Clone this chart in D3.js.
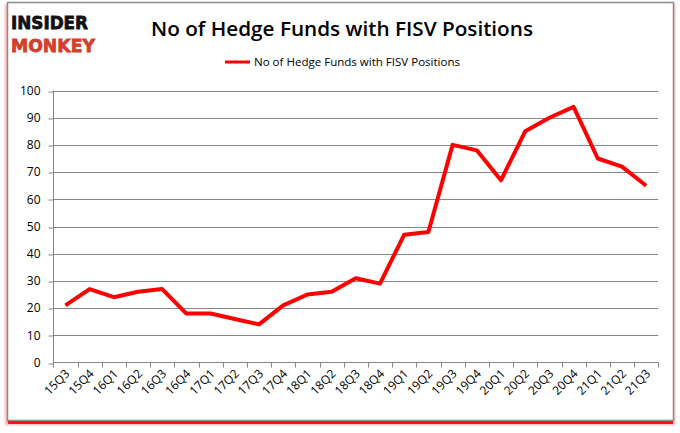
<!DOCTYPE html>
<html><head><meta charset="utf-8">
<script src="https://cdn.jsdelivr.net/npm/d3@7"></script>
<style>body{margin:0;background:#fff;} svg{display:block;}</style>
</head><body>
<svg id="c" width="680" height="433"></svg>
<script>
const categories = ["15Q3","15Q4","16Q1","16Q2","16Q3","16Q4","17Q1","17Q2","17Q3","17Q4","18Q1","18Q2","18Q3","18Q4","19Q1","19Q2","19Q3","19Q4","20Q1","20Q2","20Q3","20Q4","21Q1","21Q2","21Q3"];
const values = [21,27,24,26,27,18,18,16,14,21,25,26,31,29,47,48,80,78,67,85,90,94,75,72,65];
const yTicks = [0,10,20,30,40,50,60,70,80,90,100];
const seriesName = "No of Hedge Funds with FISV Positions";
const title = "No of Hedge Funds with FISV Positions";

const svg = d3.select("#c");
const defs = svg.append("defs");
const f = defs.append("filter").attr("id","sh").attr("x","-5%").attr("y","-5%").attr("width","110%").attr("height","110%");
f.append("feGaussianBlur").attr("stdDeviation",1);

// frame with red shadow
svg.append("rect").attr("x",5).attr("y",4).attr("width",670).attr("height",421).attr("fill","#ffb0b0").attr("filter","url(#sh)");
svg.append("rect").attr("x",8).attr("y",420).attr("width",665).attr("height",4).attr("fill","#ff1010");
svg.append("rect").attr("x",7.5).attr("y",2.5).attr("width",666).attr("height",418).attr("fill","#fff").attr("stroke","#8a8a8a").attr("stroke-width",1.5);

// logo
svg.append("text").attr("x",11).attr("y",29).attr("font-family","'DejaVu Sans'").attr("font-weight","bold").attr("font-size",18).attr("fill","#111").attr("textLength",77).attr("lengthAdjust","spacingAndGlyphs").attr("stroke","#111").attr("stroke-width",0.8).text("INSIDER");
svg.append("text").attr("x",11).attr("y",52).attr("font-family","'DejaVu Sans'").attr("font-weight","bold").attr("font-size",18).attr("fill","#d2402c").attr("textLength",84).attr("lengthAdjust","spacingAndGlyphs").attr("stroke","#d2402c").attr("stroke-width",0.8).text("MONKEY");

// title
svg.append("text").attr("x",151).attr("y",36).attr("font-family","'Open Sans', sans-serif").attr("font-weight","600").attr("font-size",19).attr("fill","#000").attr("textLength",382).attr("lengthAdjust","spacingAndGlyphs").text(title);

// legend
svg.append("line").attr("x1",225).attr("x2",250).attr("y1",62).attr("y2",62).attr("stroke","#ff0000").attr("stroke-width",3);
svg.append("text").attr("x",254).attr("y",66).attr("font-family","'Open Sans', sans-serif").attr("font-size",11.5).attr("fill","#000").attr("textLength",206).attr("lengthAdjust","spacingAndGlyphs").text(seriesName);

const x = d3.scaleBand().domain(categories).range([53.3,658.3]);
const y = d3.scaleLinear().domain([0,100]).range([362.5,90.5]);

// gridlines
svg.append("g").selectAll("line").data(yTicks.filter(d=>d>0)).join("line")
  .attr("x1",53.3).attr("x2",658.3).attr("y1",d=>Math.round(y(d))+0.5).attr("y2",d=>Math.round(y(d))+0.5)
  .attr("stroke","#878787").attr("stroke-width",1);

// y axis
const ya = svg.append("g").attr("transform","translate(53.5,0)")
  .call(d3.axisLeft(y).tickValues(yTicks).tickSize(5).tickPadding(8).tickFormat(d3.format("d")));
ya.select(".domain").attr("stroke","#878787").attr("d","M0,90.5V362.5");
ya.selectAll(".tick line").attr("stroke","#878787").attr("transform",d=>`translate(0,${Math.round(y(d))+0.5-y(d)})`);
ya.selectAll("text").attr("font-family","'Open Sans', sans-serif").attr("font-size",12).attr("fill","#000");

// x axis
const xa = svg.append("g").attr("transform","translate(0,362.5)")
  .call(d3.axisBottom(x).tickSize(0).tickFormat(""));
xa.select(".domain").attr("stroke","#878787").attr("d","M53.3,0H658.3");
const edges = categories.map(c=>x(c)).concat([x.range()[1]]);
xa.selectAll(".edge").data(edges).join("line").attr("class","edge")
  .attr("x1",d=>Math.round(d)+0.5).attr("x2",d=>Math.round(d)+0.5).attr("y1",0).attr("y2",5).attr("stroke","#878787");
xa.selectAll(".lbl").data(categories).join("text").attr("class","lbl")
  .attr("transform",d=>`translate(${x(d)+x.bandwidth()/2+5},${12}) rotate(-45)`)
  .attr("text-anchor","end").attr("font-family","'Open Sans', sans-serif").attr("font-size",12).attr("fill","#000")
  .text(d=>d);

// line
const line = d3.line().x((d,i)=>x(categories[i])+x.bandwidth()/2).y(d=>y(d));
svg.append("path").datum(values).attr("d",line).attr("fill","none").attr("stroke","#ff0000").attr("stroke-width",4).attr("stroke-linejoin","round");
</script>
</body></html>
